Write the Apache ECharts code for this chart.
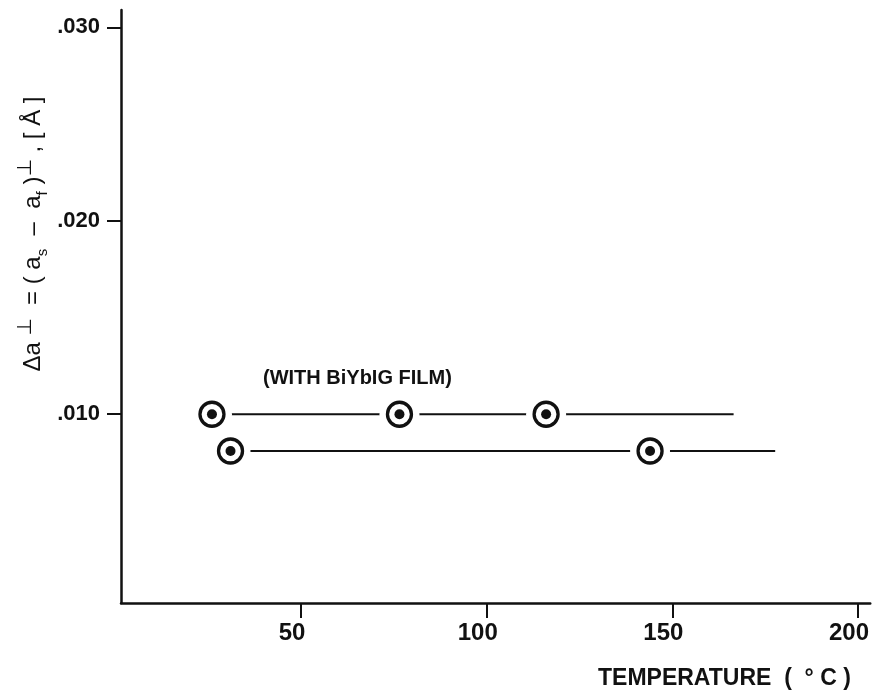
<!DOCTYPE html>
<html>
<head>
<meta charset="utf-8">
<script src="https://cdn.jsdelivr.net/npm/echarts@6/dist/echarts.min.js"></script>
<style>
	html, body { margin: 0; padding: 0; background: #fff; }
	#chart { width: 872px; height: 696px; }
</style>
</head>
<body>
<div id="chart"></div>
<script>
// Values
const upperTemps = [26, 76.5, 116];
const upperDelta = [0.0100, 0.0100, 0.0100];
const upperLineEnd = 166.5;
const lowerTemps = [31, 144];
const lowerDelta = [0.0081, 0.0081];
const lowerLineEnd = 177.7;
const xTicks = [50, 100, 150, 200];
const yTicks = [0.010, 0.020, 0.030];

const ink = '#111';
const font = '"Liberation Sans", Arial, Helvetica, sans-serif';

const toPoints = (xs, ys) => xs.map((x, i) => [x, ys[i]]);
const upperPts = toPoints(upperTemps, upperDelta);
const lowerPts = toPoints(lowerTemps, lowerDelta);

// line runs past the last point
const upperLine = upperPts.concat([[upperLineEnd, upperDelta[upperDelta.length - 1]]]);
const lowerLine = lowerPts.concat([[lowerLineEnd, lowerDelta[lowerDelta.length - 1]]]);

const allPts = upperPts.concat(lowerPts);

const lineSeries = data => ({
	type: 'line',
	data: data,
	symbol: 'none',
	lineStyle: { color: ink, width: 2 },
	silent: true,
	z: 1
});

const marker = (size, style) => ({
	type: 'scatter',
	data: allPts,
	symbol: 'circle',
	symbolSize: size,
	itemStyle: Object.assign({ opacity: 1 }, style),
	emphasis: { disabled: true },
	silent: true,
	z: 3
});

const chart = echarts.init(document.getElementById('chart'), null, { renderer: 'canvas' });

const option = {
	animation: false,
	backgroundColor: '#fff',
	grid: { left: 121, right: 0, top: 10, bottom: 93 },
	xAxis: {
		type: 'value',
		min: 1.5,
		max: 203.3,
		axisLine: { show: true, onZero: false, lineStyle: { color: ink, width: 2.5 } },
		axisTick: { show: true, customValues: xTicks, length: 15, lineStyle: { color: ink, width: 2 } },
		axisLabel: {
			customValues: xTicks,
			margin: 18,
			color: ink,
			fontFamily: font,
			fontWeight: 'bold',
			fontSize: 24,
			padding: [0, 18, 0, 0]
		},
		splitLine: { show: false }
	},
	yAxis: {
		type: 'value',
		min: 0.00024,
		max: 0.0309,
		axisLine: { show: true, onZero: false, lineStyle: { color: ink, width: 2.5 } },
		axisTick: { show: true, customValues: yTicks, length: 14, lineStyle: { color: ink, width: 2 } },
		axisLabel: {
			customValues: yTicks,
			margin: 21,
			color: ink,
			fontFamily: font,
			fontWeight: 'bold',
			fontSize: 22,
			formatter: v => v.toFixed(3).replace(/^0/, '')
		},
		splitLine: { show: false }
	},
	series: [
		lineSeries(upperLine),
		lineSeries(lowerLine),
		// white halo so the line breaks around each marker
		marker(40, { color: '#fff' }),
		marker(24, { color: '#fff', borderColor: ink, borderWidth: 3.3 }),
		marker(10, { color: ink })
	],
	graphic: [
		{
			type: 'text',
			x: 263,
			y: 378,
			style: {
				text: '(WITH BiYbIG FILM)',
				fill: ink,
				font: 'bold 20px ' + font,
				align: 'left',
				verticalAlign: 'middle'
			}
		},
		{
			type: 'text',
			x: 598,
			y: 679,
			style: {
				text: 'TEMPERATURE  (  ° C )',
				fill: ink,
				font: 'bold 23px ' + font,
				align: 'left',
				verticalAlign: 'middle'
			}
		},
		{
			type: 'text',
			x: 33,
			y: 234,
			rotation: Math.PI / 2,
			style: {
				text: '{m|Δa}{sup| ⊥}{m|  = ( a}{sub|s}{m|  –  a}{sub|f}{m| )}{sup|⊥}{m| , [ Å ]}',
				fill: ink,
				align: 'center',
				verticalAlign: 'middle',
				rich: {
					m: { fontFamily: font, fontSize: 24, lineHeight: 34, fill: ink },
					sup: { fontFamily: 'DejaVu Sans', fontSize: 20, lineHeight: 20, verticalAlign: 'top', fill: ink },
					sub: { fontFamily: font, fontSize: 15, lineHeight: 15, verticalAlign: 'bottom', fill: ink }
				}
			}
		}
	]
};

chart.setOption(option);
</script>
</body>
</html>
